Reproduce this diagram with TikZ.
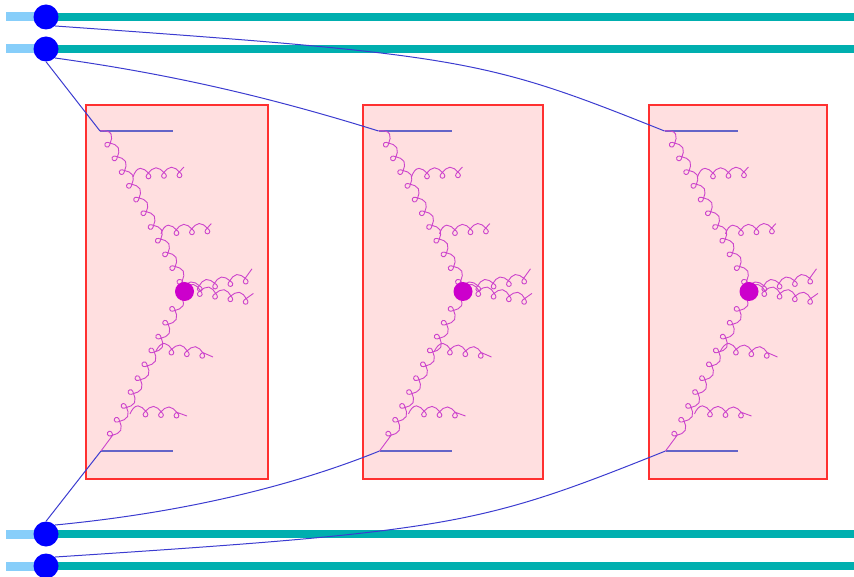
\documentclass[tikz,border=0pt]{standalone}
\usetikzlibrary{decorations,calc}
\definecolor{beamcol}{HTML}{00AFAF}
\definecolor{beamin}{HTML}{87CEFA}
\definecolor{pinkfill}{HTML}{FFDFE0}
\definecolor{boxred}{HTML}{FF3030}
\definecolor{wire}{HTML}{3C3CD0}
\definecolor{wireh}{HTML}{6464C8}
\definecolor{glu}{HTML}{CC44CC}
\definecolor{vtx}{HTML}{CC00CC}
\newdimen\gL \gL=15.5pt
\newdimen\gR \gR=2.4pt
\newdimen\gS \gS=3.4pt
\newdimen\gH \gH=5pt
\def\glucommon{%
  \pgfpathcurveto{\pgfpoint{0.5\gL+3.5pt}{\gS+\gH}}{\pgfpoint{\gL-2.2pt}{\gS+2.2pt}}{\pgfpoint{\gL}{\gS}}%
  \pgfpathlineto{\pgfpoint{\gL+0.7071\gR}{0.7071\gR}}%
  \pgfpathcurveto{\pgfpoint{\gL+0.8946\gR}{0.5196\gR}}{\pgfpoint{\gL+\gR}{0.2652\gR}}{\pgfpoint{\gL+\gR}{0pt}}%
  \pgfpathcurveto{\pgfpoint{\gL+\gR}{-0.5523\gR}}{\pgfpoint{\gL+0.5523\gR}{-\gR}}{\pgfpoint{\gL}{-\gR}}%
  \pgfpathcurveto{\pgfpoint{\gL-0.5523\gR}{-\gR}}{\pgfpoint{\gL-\gR}{-0.5523\gR}}{\pgfpoint{\gL-\gR}{0pt}}%
  \pgfpathcurveto{\pgfpoint{\gL-\gR}{0.2652\gR}}{\pgfpoint{\gL-0.8946\gR}{0.5196\gR}}{\pgfpoint{\gL-0.7071\gR}{0.7071\gR}}%
  \pgfpathlineto{\pgfpoint{\gL}{\gS}}%
}
\def\glufirst{%
  \pgfpathcurveto{\pgfpoint{1.5pt}{0.5\gS+0.5\gH}}{\pgfpoint{0.5\gL-3.5pt}{\gS+\gH}}{\pgfpoint{0.5\gL}{\gS+\gH}}%
  \glucommon}
\def\glunext{%
  \pgfpathcurveto{\pgfpoint{2.2pt}{\gS+2.2pt}}{\pgfpoint{0.5\gL-3.5pt}{\gS+\gH}}{\pgfpoint{0.5\gL}{\gS+\gH}}%
  \glucommon}
\pgfdeclaredecoration{gluA}{first}{%
  \state{first}[switch if less than=\gL+5pt to final, width=\gL, next state=loop]{\glufirst}%
  \state{loop}[switch if less than=\gL+5pt to final, width=\gL]{\glunext}%
  \state{final}{\pgfpathlineto{\pgfpointdecoratedpathlast}}%
}
\pgfdeclaredecoration{gluB}{first}{%
  \state{first}[switch if less than=\gL+5pt to final, width=\gL, next state=loop]{\glufirst}%
  \state{loop}[switch if less than=\gL+5pt to final, width=\gL]{\glunext}%
  \state{final}{\pgfpathlineto{\pgfpoint{0.5\pgfdecoratedremainingdistance}{\gS+0.5\pgfdecoratedremainingdistance}}}%
}
\tikzset{
  beamline/.style={line width=8pt, beamcol},
  beamstub/.style={line width=9pt, beamin},
  hadron/.style={circle, fill=blue, minimum size=25pt, inner sep=0pt},
  blob/.style={draw=boxred, line width=1.5pt, fill=pinkfill},
  wireline/.style={wire, line width=1pt},
  wirehor/.style={wireh, line width=1.1pt},
  gluon/.style={glu, line width=0.9pt, decorate, decoration={gluA}},
  gluonup/.style={glu, line width=0.9pt, decorate, decoration={gluB}},
  vertex/.style={circle, fill=vtx, minimum size=19pt, inner sep=0pt}
}
\begin{document}
\begin{tikzpicture}[x=1pt,y=-1pt]
\useasboundingbox (0,0) rectangle (854,577);
% beams
\foreach \n/\y in {1/17,2/49,3/534,4/566}{
  \draw[beamstub] (6,\y) -- (46,\y);
  \draw[beamline] (46,\y) -- (854,\y);
}
% boxes
\foreach \L/\R/\k in {86/268/1,363/543/2,649/827/3}{
  \draw[blob] (\L,105) rectangle (\R,479);
}
% hadrons
\node[hadron] (h1) at (46,17) {};
\node[hadron] (h2) at (46,49) {};
\node[hadron] (h3) at (46,534) {};
\node[hadron] (h4) at (46,566) {};
% box contents
\foreach \S/\k in {0/1,278.5/2,564.5/3}{
  \begin{scope}[shift={(\S,0)}]
    \coordinate (A\k) at (100,131);
    \coordinate (Ae\k) at (173,131);
    \coordinate (B\k) at (101,451);
    \coordinate (Be\k) at (173,451);
    \coordinate (V\k) at (184.5,291.5);
    \coordinate (W\k) at (179,295);
    \draw[wirehor] (A\k) -- (Ae\k);
    \draw[wirehor] (B\k) -- (Be\k);
    \draw[gluon] (A\k) -- (V\k);
    \draw[gluon] (W\k) -- (B\k);
    \coordinate (p1\k) at (133,177);
    \coordinate (p2\k) at (161,234);
    \coordinate (p3\k) at (156,351);
    \coordinate (p4\k) at (130,414);
    \coordinate (q1\k) at (189,175);
    \coordinate (q2\k) at (216,231);
    \coordinate (q3\k) at (213,357);
    \coordinate (q4\k) at (187,416);
    \coordinate (r1\k) at (262,279);
    \coordinate (r2\k) at (258,304);
    \draw[gluonup] (p1\k) -- (q1\k);
    \draw[gluonup] (p2\k) -- (q2\k);
    \draw[gluon] (p3\k) -- (q3\k);
    \draw[gluon] (p4\k) -- (q4\k);
    \draw[gluonup] (V\k) -- (r1\k);
    \draw[gluonup] (V\k) -- (r2\k);
    \node[vertex] (v\k) at (V\k) {};
  \end{scope}
}
% connectors
\draw[wireline] (h2.south) -- (A1);
\draw[wireline] (h2.-45) .. controls +(115,16) and +(-109,-34) .. (A2);
\draw[wireline] (h1.-45) .. controls +(410,29) and +(-180,-72) .. (A3);
\draw[wireline] (h3.north) -- (B1);
\draw[wireline] (h3.45) .. controls +(125,-12) and +(-89,36) .. (B2);
\draw[wireline] (h4.45) .. controls +(400,-26) and +(-185,74) .. (B3);
\end{tikzpicture}
\end{document}
